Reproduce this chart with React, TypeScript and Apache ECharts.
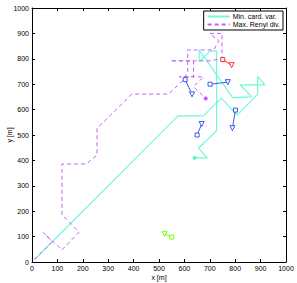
import React, { useEffect, useRef } from "react";
import * as echarts from "echarts";

const xTicks = [0, 100, 200, 300, 400, 500, 600, 700, 800, 900, 1000];
const minCardX = [10, 575, 675, 745, 808, 888, 888, 917, 820, 865, 790, 658, 658, 700, 727, 727, 655, 690, 640];
const minCardY = [10, 575, 575, 645, 578, 660, 730, 697, 697, 650, 647, 835, 788, 830, 830, 517, 448, 410, 410];
const renyiX = [10, 80, 45, 118, 186, 118, 118, 214, 256, 256, 393, 537, 596, 613, 613, 715, 735, 700, 748, 748, 700, 545, 636, 636, 580, 675, 636, 684];
const renyiY = [10, 80, 115, 48, 118, 186, 386, 386, 421, 526, 661, 661, 716, 750, 835, 835, 870, 900, 900, 800, 792, 792, 792, 729, 729, 729, 690, 644];
const agentNames = ["blue1", "blue2", "blue3", "blue4", "red", "green"];
const agentStartX = [603, 701, 801, 650, 751, 550];
const agentStartY = [718, 700, 598, 500, 797, 98];
const agentEndX = [630, 771, 789, 668, 786, 522];
const agentEndY = [660, 708, 527, 543, 775, 111];
const agentColors = ["#3a5ce8", "#3a5ce8", "#3a5ce8", "#3a5ce8", "#ff2a2a", "#7fff00"];

export default function App() {
  const ref = useRef<HTMLDivElement>(null);
  useEffect(() => {
    if (!ref.current) return;
    const chart = echarts.init(ref.current, undefined, { renderer: "svg" });
    const font = "Liberation Sans, Arial, sans-serif";
    const axisCommon = {
      type: "value" as const,
      min: xTicks[0],
      max: xTicks[xTicks.length - 1],
      interval: 100,
      splitLine: { show: false },
      axisLine: { show: true, onZero: false, lineStyle: { color: "#000", width: 1 } },
      axisTick: { show: true, inside: true, length: 3, lineStyle: { color: "#000" } },
    };
    const labelStyle = { fontSize: 7, fontFamily: font, color: "#000", margin: 3, formatter: (v: number) => String(v) };
    const agentSeries = agentNames.map((n, i) => ({
      name: n,
      type: "line",
      data: [
        { value: [agentStartX[i], agentStartY[i]], symbol: "rect", symbolSize: 4 },
        { value: [agentEndX[i], agentEndY[i]], symbol: "triangle", symbolRotate: 180, symbolSize: 5 },
      ],
      showSymbol: true,
      itemStyle: { color: "#fff", borderColor: agentColors[i], borderWidth: 1 },
      lineStyle: { color: agentColors[i], width: 1 },
      z: 5,
    }));
    chart.setOption({
      animation: false,
      grid: { left: 32, right: 11, top: 8, bottom: 21, containLabel: false, outerBoundsMode: "none" },
      legend: {
        data: [{ name: "Min. card. var." }, { name: "Max. Renyi div." }],
        orient: "vertical",
        right: 14,
        top: 11,
        backgroundColor: "#fff",
        borderColor: "#000",
        borderWidth: 1,
        borderRadius: 0,
        padding: [2, 3, 2, 3],
        itemGap: 1,
        itemWidth: 22,
        itemHeight: 7,
        itemStyle: { color: "transparent", borderWidth: 0 },
        textStyle: { fontSize: 7, fontFamily: font, color: "#000", padding: [0, 0, 0, -2] },
      },
      xAxis: [
        {
          ...axisCommon,
          position: "bottom",
          name: "x [m]",
          nameLocation: "middle",
          nameGap: 12,
          nameMoveOverlap: false,
          nameTextStyle: { fontSize: 7, fontFamily: font, color: "#000" },
          axisLabel: labelStyle,
        },
        { ...axisCommon, position: "top", axisLabel: { show: false } },
      ],
      yAxis: [
        {
          ...axisCommon,
          position: "left",
          name: "y [m]",
          nameLocation: "middle",
          nameGap: 19,
          nameMoveOverlap: false,
          nameTextStyle: { fontSize: 7, fontFamily: font, color: "#000" },
          axisLabel: labelStyle,
        },
        { ...axisCommon, position: "right", axisLabel: { show: false } },
      ],
      series: [
        {
          name: "Min. card. var.",
          type: "line",
          data: minCardX.map((x, i) => [x, minCardY[i]]),
          symbol: "none",
          lineStyle: { color: "#70f8d8", width: 1.2 },
          itemStyle: { color: "#70f8d8" },
          z: 3,
        },
        {
          name: "Max. Renyi div.",
          type: "line",
          data: renyiX.map((x, i) => [x, renyiY[i]]),
          symbol: "none",
          lineStyle: { color: "#c060ff", width: 1, type: [4, 3] },
          itemStyle: { color: "#c060ff" },
          z: 4,
        },
        {
          name: "endpoints",
          type: "scatter",
          data: [
            { value: [minCardX[minCardX.length - 1], minCardY[minCardY.length - 1]], itemStyle: { color: "#40e8b0" } },
            { value: [renyiX[renyiX.length - 1], renyiY[renyiY.length - 1]], itemStyle: { color: "#c030ff" } },
          ],
          symbol: "circle",
          symbolSize: 4,
          z: 6,
        },
        ...agentSeries,
      ],
    });
    return () => chart.dispose();
  }, []);
  return <div ref={ref} style={{ width: 297, height: 283, position: "absolute", left: 0, top: 0 }} />;
}
